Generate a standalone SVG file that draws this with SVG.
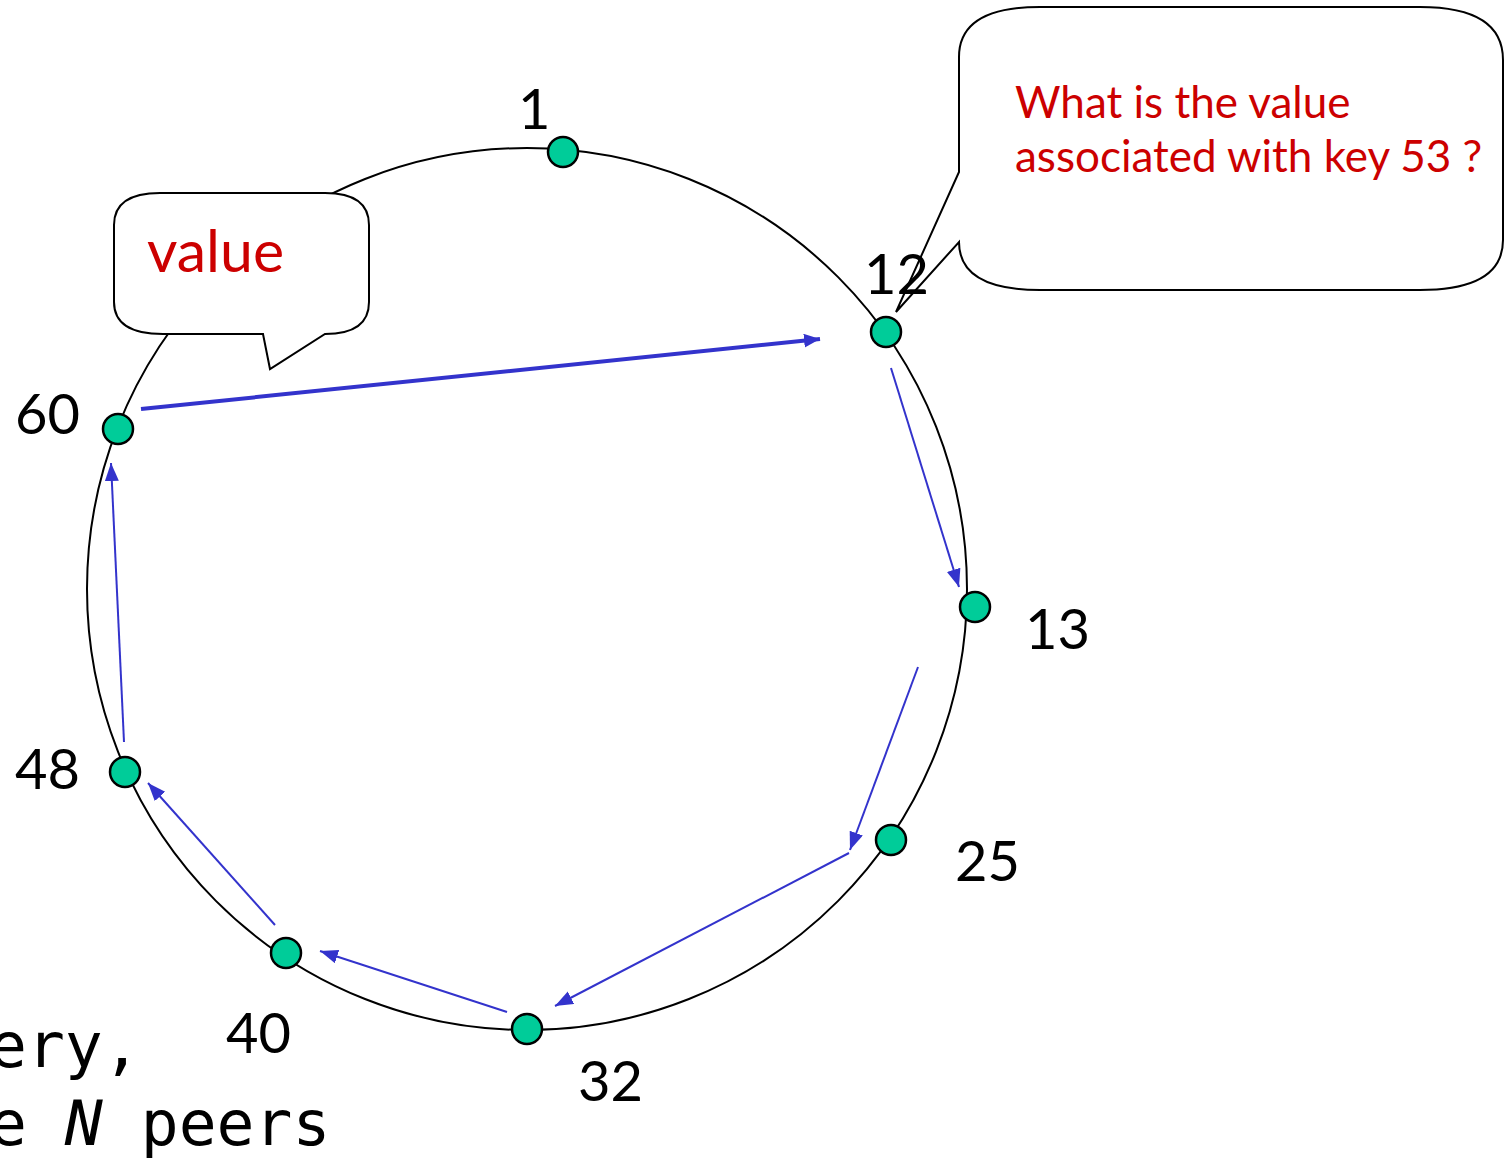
<svg xmlns="http://www.w3.org/2000/svg" width="1505" height="1159" viewBox="0 0 1505 1159">
  <style>
    .ring { fill: none; stroke: #000; stroke-width: 2; }
    .peer { fill: #00CC99; stroke: #000; stroke-width: 2.5; }
    .lbl { font-family: Lato, "Liberation Sans", sans-serif; font-size: 56px; fill: #000; }
    .bubble { fill: #fff; stroke: #000; stroke-width: 2; stroke-linejoin: miter; }
    .say { font-family: Lato, "Liberation Sans", sans-serif; fill: #CC0000; }
    .hop { stroke: #3333CC; stroke-width: 2; fill: none; marker-end: url(#head); }
    .hop-wide { stroke: #3333CC; stroke-width: 4; fill: none; marker-end: url(#head-wide); }
    .mono { font-family: "DejaVu Sans Mono", "Liberation Mono", monospace; font-size: 63px; fill: #000; }
  </style>
  <defs>
    <marker id="head" markerUnits="userSpaceOnUse" markerWidth="20" markerHeight="16" refX="18" refY="7" orient="auto">
      <path d="M0,0 L18,7 L0,14 Z" fill="#3333CC"/>
    </marker>
    <marker id="head-wide" markerUnits="userSpaceOnUse" markerWidth="20" markerHeight="16" refX="16" refY="7" orient="auto">
      <path d="M0,0 L16,7 L0,14 Z" fill="#3333CC"/>
    </marker>
  </defs>

  <rect width="1505" height="1159" fill="#fff"/>

  <!-- identifier ring -->
  <ellipse class="ring" cx="527" cy="589" rx="440" ry="441"/>

  <!-- query bubble at peer 12 -->
  <g id="query-bubble">
    <path class="bubble" d="M959,172 L959,57 Q959,7 1040,7 L1420,7 Q1503,7 1503,60 L1503,240 Q1503,290 1420,290 L1040,290 Q959,290 959,242 L896,312 Z"/>
    <text class="say" font-size="44" x="1015" y="118">What is the value</text>
    <text class="say" font-size="44" x="1015" y="172">associated with key 53 ?</text>
  </g>

  <!-- answer bubble at peer 60 -->
  <g id="value-bubble">
    <path class="bubble" d="M114,225 Q114,193 160,193 L325,193 Q369,193 369,225 L369,302 Q369,334 325,334 L270,369 L263,334 L163,334 Q114,334 114,302 Z"/>
    <text class="say" font-size="59" x="147" y="272">value</text>
  </g>

  <!-- lookup hops -->
  <g id="connectors">
    <line class="hop-wide" x1="141" y1="409" x2="820" y2="339"/>
    <line class="hop" x1="891" y1="368" x2="959" y2="587"/>
    <line class="hop" x1="918" y1="667" x2="850" y2="850"/>
    <line class="hop" x1="849" y1="853" x2="555" y2="1006"/>
    <line class="hop" x1="507" y1="1012" x2="320" y2="951"/>
    <line class="hop" x1="275" y1="925" x2="148" y2="783"/>
    <line class="hop" x1="124" y1="742" x2="111" y2="463"/>
  </g>

  <!-- peers -->
  <g id="peer-1"><circle class="peer" cx="563" cy="152" r="15"/><text class="lbl" x="518" y="129">1</text></g>
  <g id="peer-12"><circle class="peer" cx="886" cy="332" r="15"/><text class="lbl" x="864" y="294">12</text></g>
  <g id="peer-13"><circle class="peer" cx="975" cy="607" r="15"/><text class="lbl" x="1025" y="649">13</text></g>
  <g id="peer-25"><circle class="peer" cx="891" cy="840" r="15"/><text class="lbl" x="955" y="881">25</text></g>
  <g id="peer-32"><circle class="peer" cx="527" cy="1029" r="15"/><text class="lbl" x="578" y="1101">32</text></g>
  <g id="peer-40"><circle class="peer" cx="286" cy="953" r="15"/><text class="lbl" x="226" y="1053">40</text></g>
  <g id="peer-48"><circle class="peer" cx="125" cy="772" r="15"/><text class="lbl" x="15" y="789">48</text></g>
  <g id="peer-60"><circle class="peer" cx="118" cy="429" r="15"/><text class="lbl" x="15" y="434">60</text></g>

  <!-- slide text fragment -->
  <text class="mono" x="-11" y="1067">ery,</text>
  <text class="mono" x="-11" y="1145">e <tspan font-style="italic">N</tspan> peers</text>
</svg>
